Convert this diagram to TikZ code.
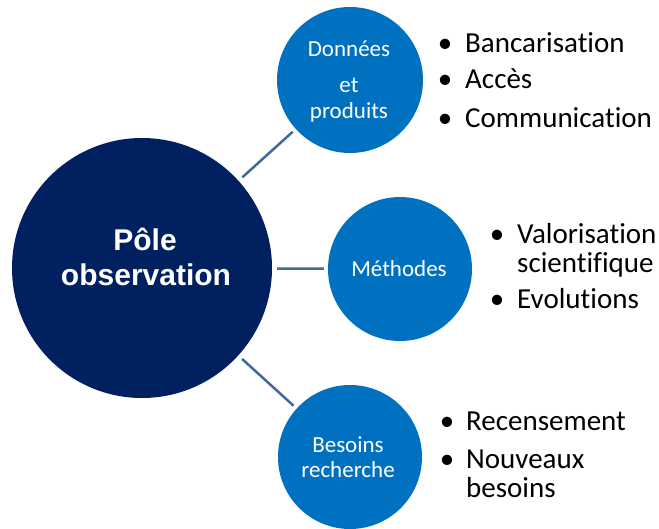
\documentclass[tikz,border=0pt]{standalone}
\usepackage{fontspec}
\setmainfont{Carlito}[Ligatures={NoCommon,NoDiscretionary,NoRare}]
\newfontfamily\headfont{Liberation Sans}
\definecolor{navy}{HTML}{002060}
\definecolor{midblue}{HTML}{0070C0}
\definecolor{conn}{HTML}{41689C}
\tikzset{
  bigc/.style={circle, fill=navy, draw=none, minimum size=260pt, inner sep=0pt},
  smallc/.style={circle, fill=midblue, draw=none, minimum size=146pt, inner sep=0pt},
  conline/.style={draw=conn, line width=2.5pt, shorten <=5pt, shorten >=4pt},
  ctext/.style={text=white, anchor=base, inner sep=0pt, font=\fontsize{23}{27}\selectfont},
  htext/.style={text=white, anchor=base, inner sep=0pt, font=\headfont\bfseries\fontsize{30}{35}\selectfont},
  btext/.style={text=black, anchor=base west, inner sep=0pt, font=\fontsize{29}{34}\selectfont},
  bdot/.style={text=black, anchor=base, inner sep=0pt, font=\fontsize{29}{34}\selectfont}
}
\begin{document}
\begin{tikzpicture}[x=1pt,y=-1pt]
\useasboundingbox (0,0) rectangle (659,528);
% circles
\node[bigc] (pole) at (142,268) {};
\node[smallc] (don) at (350,80) {};
\node[smallc, minimum size=144pt] (met) at (400,269) {};
\node[smallc, minimum size=144pt] (bes) at (350,457) {};
% connectors
\draw[conline] (pole) -- (don);
\draw[conline] (pole) -- (met);
\draw[conline] (pole) -- (bes);
% circle labels
\node[htext] (p1) at (145,250) {Pôle};
\node[htext] (p2) at (146,285) {observation};
\node[ctext] (d1) at (349,56) {Données};
\node[ctext] (d2) at (349,92) {et};
\node[ctext] (d3) at (349,118) {produits};
\node[ctext] (m1) at (399,276) {Méthodes};
\node[ctext] (b1) at (348,452) {Besoins};
\node[ctext] (b2) at (348,477) {recherche};
% bullet lists
\node[bdot] (dd1) at (445,52) {•};
\node[btext] (dt1) at (465,52) {Bancarisation};
\node[bdot] (dd2) at (445,88) {•};
\node[btext] (dt2) at (465,88) {Accès};
\node[bdot] (dd3) at (445,127) {•};
\node[btext] (dt3) at (465,127) {Communication};
\node[bdot] (md1) at (497,243) {•};
\node[btext] (mt1) at (517,243) {Valorisation};
\node[btext] (mt2) at (517,272) {scientifique};
\node[bdot] (md2) at (497,308) {•};
\node[btext] (mt3) at (517,308) {Evolutions};
\node[bdot] (bd1) at (447,430) {•};
\node[btext] (bt1) at (466,430) {Recensement};
\node[bdot] (bd2) at (447,468) {•};
\node[btext] (bt2) at (466,468) {Nouveaux};
\node[btext] (bt3) at (466,497) {besoins};
\end{tikzpicture}
\end{document}
